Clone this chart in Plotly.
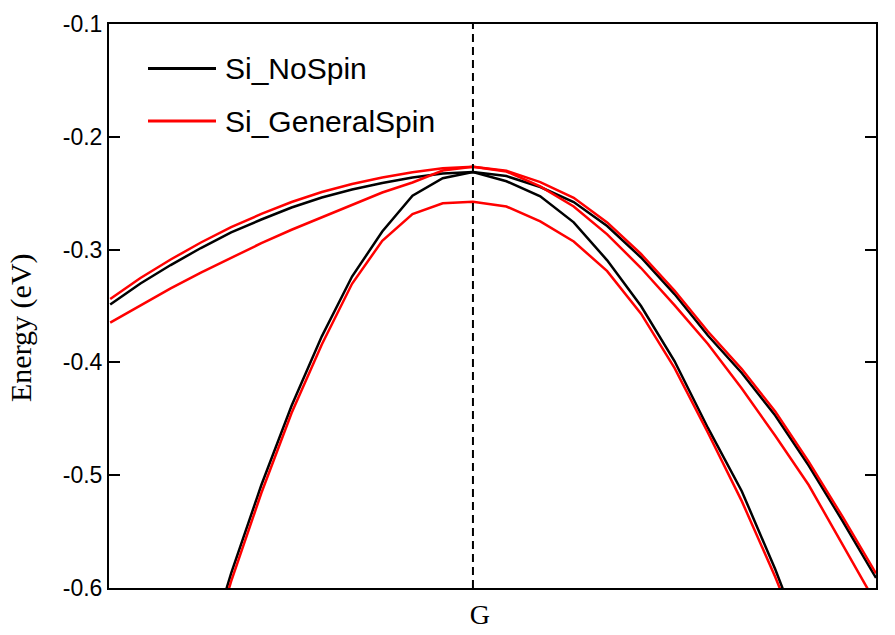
import plotly.graph_objects as go

# k-path coordinate (G at 0)
k_left = [-0.9, -0.825, -0.75, -0.675, -0.6, -0.525, -0.45, -0.375, -0.3, -0.225, -0.15, -0.075, 0.0]
k_right = [0.083, 0.167, 0.25, 0.333, 0.417, 0.5, 0.583, 0.667, 0.75, 0.833, 0.917, 1.0]
k = k_left + k_right

# Si_NoSpin bands (eV)
nospin_band1 = [-0.3487, -0.3300, -0.3137, -0.2986, -0.2848, -0.2733, -0.2627, -0.2538, -0.2467, -0.2410, -0.2361, -0.2325, -0.2312,
                -0.2348, -0.2445, -0.2578, -0.2791, -0.3070, -0.3394, -0.3762, -0.4094, -0.4471, -0.4914, -0.5406, -0.5911]
nospin_band2 = [-0.965, -0.868, -0.771, -0.675, -0.5871, -0.5087, -0.4384, -0.3769, -0.3239, -0.2840, -0.2522, -0.2367, -0.2312,
                -0.2394, -0.2527, -0.2758, -0.3095, -0.3500, -0.3988, -0.4581, -0.5142, -0.5834, -0.6603, -0.7392, -0.8190]

# Si_GeneralSpin bands (eV)
gspin_band1 = [-0.3438, -0.3252, -0.3088, -0.2937, -0.2800, -0.2684, -0.2578, -0.2489, -0.2418, -0.2361, -0.2314, -0.2279, -0.2265,
               -0.2301, -0.2402, -0.2541, -0.2759, -0.3039, -0.3363, -0.3726, -0.4059, -0.4435, -0.4879, -0.5368, -0.5871]
gspin_band2 = [-0.3647, -0.3492, -0.3344, -0.3204, -0.3070, -0.2943, -0.2824, -0.2712, -0.2606, -0.2494, -0.2405, -0.2299, -0.2265,
               -0.2308, -0.2440, -0.2618, -0.2865, -0.3163, -0.3492, -0.3837, -0.4232, -0.4651, -0.5087, -0.5608, -0.6137]
gspin_band3 = [-0.975, -0.877, -0.780, -0.683, -0.5942, -0.5158, -0.4449, -0.3841, -0.3303, -0.2922, -0.2686, -0.2589, -0.2575,
               -0.2618, -0.2750, -0.2928, -0.3191, -0.3568, -0.4048, -0.4624, -0.5230, -0.5902, -0.6638, -0.7436, -0.8234]

y_ticks = [-0.6, -0.5, -0.4, -0.3, -0.2, -0.1]
y_tick_labels = ["-0.6", "-0.5", "-0.4", "-0.3", "-0.2", "-0.1"]
x_ticks = [0.0]
x_tick_labels = ["G"]
series_names = ["Si_NoSpin", "Si_GeneralSpin"]
series_colors = ["#000000", "#ff0000"]

fig = go.Figure()
for band in [nospin_band1, nospin_band2]:
    fig.add_trace(go.Scatter(x=k, y=band, mode="lines", line=dict(color=series_colors[0], width=2.5),
                             showlegend=False, hoverinfo="skip"))
for band in [gspin_band1, gspin_band2, gspin_band3]:
    fig.add_trace(go.Scatter(x=k, y=band, mode="lines", line=dict(color=series_colors[1], width=2.5),
                             showlegend=False, hoverinfo="skip"))

# vertical dashed line at G
fig.add_shape(type="line", xref="x", yref="paper", x0=0, x1=0, y0=0, y1=1,
              line=dict(color="black", width=2, dash="8px,5px"))

# manual legend (positions in screen pixels of the plot area: left 109, bottom 588)
W, H = 767.0, 564.0
def px2paper(px, py):
    return (px - 109) / W, (588 - py) / H

for name, color, py in zip(series_names, series_colors, [68.5, 121]):
    x0, y0 = px2paper(148, py)
    x1, _ = px2paper(216, py)
    fig.add_shape(type="line", xref="paper", yref="paper", x0=x0, x1=x1, y0=y0, y1=y0,
                  line=dict(color=color, width=3))
    tx, ty = px2paper(223, py)
    fig.add_annotation(xref="paper", yref="paper", x=tx, y=ty, text=name, showarrow=False,
                       xanchor="left", yanchor="middle",
                       font=dict(family="Liberation Sans, Arial", size=30, color="black"))

# y-axis title
fig.add_annotation(xref="paper", yref="paper", x=(21 - 109) / W, y=(588 - 328) / H, text="Energy (eV)",
                   textangle=-90, showarrow=False, xanchor="center", yanchor="middle",
                   font=dict(family="Liberation Serif, Times New Roman", size=30, color="black"))

fig.update_layout(
    width=895, height=635,
    margin=dict(l=109, r=19, t=24, b=47, autoexpand=False),
    paper_bgcolor="white", plot_bgcolor="white",
    showlegend=False,
)
fig.update_xaxes(range=[-0.903, 1.0], tickvals=x_ticks, ticktext=x_tick_labels, automargin=False,
                 ticks="inside", ticklen=0, showgrid=False, zeroline=False, ticklabelshift=7,
                 showline=True, linecolor="black", linewidth=2, mirror=True,
                 tickfont=dict(family="Liberation Serif, Times New Roman", size=28, color="black"))
fig.update_yaxes(range=[-0.6, -0.1], tickvals=y_ticks, ticktext=y_tick_labels, automargin=False,
                 ticks="inside", ticklen=11, tickwidth=2, tickcolor="black",
                 showgrid=False, zeroline=False,
                 showline=True, linecolor="black", linewidth=2, mirror="ticks",
                 tickfont=dict(family="Liberation Sans, Arial", size=23, color="black"))

# remove the default 8px page margin so the figure sits at the window's top-left corner
fig.write_html("out.html", config={"displayModeBar": False},
               post_script="document.body.style.margin='0';document.documentElement.style.overflow='hidden';")
